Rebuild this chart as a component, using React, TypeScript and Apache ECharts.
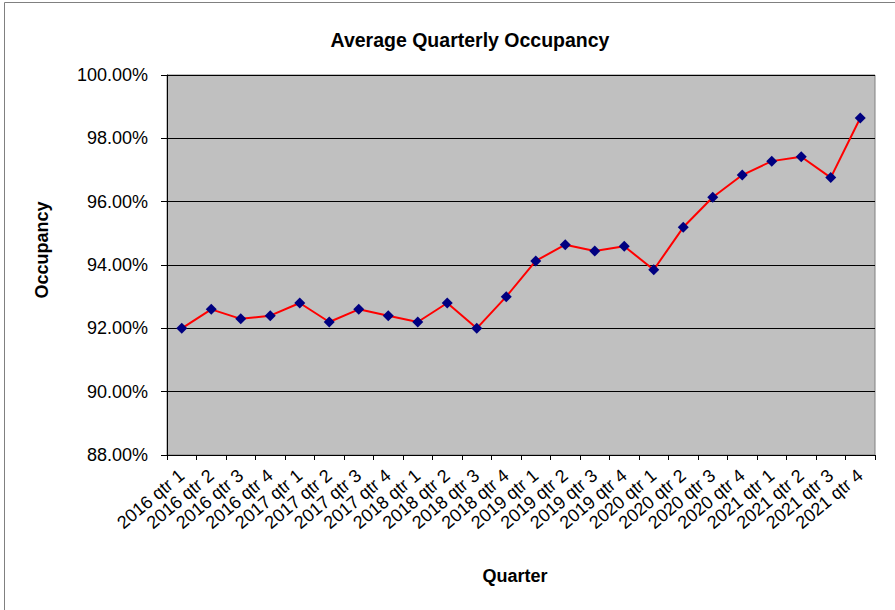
import React, { useEffect, useRef } from "react";
import * as echarts from "echarts";

const quarters: string[] = [
  "2016 qtr 1", "2016 qtr 2", "2016 qtr 3", "2016 qtr 4",
  "2017 qtr 1", "2017 qtr 2", "2017 qtr 3", "2017 qtr 4",
  "2018 qtr 1", "2018 qtr 2", "2018 qtr 3", "2018 qtr 4",
  "2019 qtr 1", "2019 qtr 2", "2019 qtr 3", "2019 qtr 4",
  "2020 qtr 1", "2020 qtr 2", "2020 qtr 3", "2020 qtr 4",
  "2021 qtr 1", "2021 qtr 2", "2021 qtr 3", "2021 qtr 4",
];

const occupancy: number[] = [
  92.0, 92.6, 92.3, 92.4,
  92.8, 92.2, 92.6, 92.4,
  92.2, 92.8, 92.0, 93.0,
  94.13, 94.64, 94.44, 94.59,
  93.85, 95.19, 96.14, 96.84,
  97.28, 97.42, 96.76, 98.64,
];

const yMin = 88;
const yMax = 100;
const yStep = 2;

const FONT = "Liberation Sans, Arial, sans-serif";

export default function App() {
  const ref = useRef<HTMLDivElement>(null);
  useEffect(() => {
    if (!ref.current) return;
    const chart = echarts.init(ref.current, null, { renderer: "svg" });
    chart.setOption({
      animation: false,
      backgroundColor: "#ffffff",
      title: {
        text: "Average Quarterly Occupancy",
        left: 465,
        textAlign: "center",
        top: 25,
        textStyle: { fontFamily: FONT, fontSize: 19.5, fontWeight: "bold", color: "#000" },
      },
      graphic: [
        {
          type: "rect",
          shape: { x: 4.5, y: 2.5, width: 1000, height: 1000 },
          style: { fill: "none", stroke: "#808080", lineWidth: 1 },
          silent: true,
        },
        {
          type: "text",
          x: 42,
          y: 250,
          rotation: Math.PI / 2,
          style: {
            text: "Occupancy",
            fontFamily: FONT,
            fontSize: 18,
            fontWeight: "bold",
            fill: "#000",
            textAlign: "center",
            textVerticalAlign: "middle",
          },
        },
        {
          type: "text",
          x: 515,
          y: 576,
          style: {
            text: "Quarter",
            fontFamily: FONT,
            fontSize: 18,
            fontWeight: "bold",
            fill: "#000",
            textAlign: "center",
            textVerticalAlign: "middle",
          },
        },
      ],
      grid: {
        left: 167,
        top: 75,
        right: 20,
        bottom: 155,
        show: true,
        backgroundColor: "#C0C0C0",
        borderColor: "#808080",
        borderWidth: 1,
      },
      xAxis: {
        type: "category",
        data: quarters,
        boundaryGap: true,
        axisLine: { show: true, lineStyle: { color: "#000", width: 1 } },
        axisTick: { show: true, alignWithLabel: false, length: 5, lineStyle: { color: "#000" } },
        axisLabel: {
          interval: 0,
          rotate: 40,
          margin: 18,
          fontFamily: FONT,
          fontSize: 18,
          color: "#000",
        },
        splitLine: { show: false },
      },
      yAxis: {
        type: "value",
        min: yMin,
        max: yMax,
        interval: yStep,
        axisLine: { show: true, lineStyle: { color: "#000", width: 1 } },
        axisTick: { show: true, length: 6, lineStyle: { color: "#000" } },
        axisLabel: {
          margin: 19,
          fontFamily: FONT,
          fontSize: 18,
          color: "#000",
          formatter: (v: number) => v.toFixed(2) + "%",
        },
        splitLine: { show: true, lineStyle: { color: "#000", width: 1 } },
      },
      series: [
        {
          type: "line",
          data: occupancy,
          symbol: "diamond",
          symbolSize: 11,
          itemStyle: { color: "#000080" },
          lineStyle: { color: "#FF0000", width: 2 },
        },
      ],
    });
    return () => chart.dispose();
  }, []);
  return (
    <div
      ref={ref}
      style={{ position: "fixed", left: 0, top: 0, width: 895, height: 610 }}
    />
  );
}
